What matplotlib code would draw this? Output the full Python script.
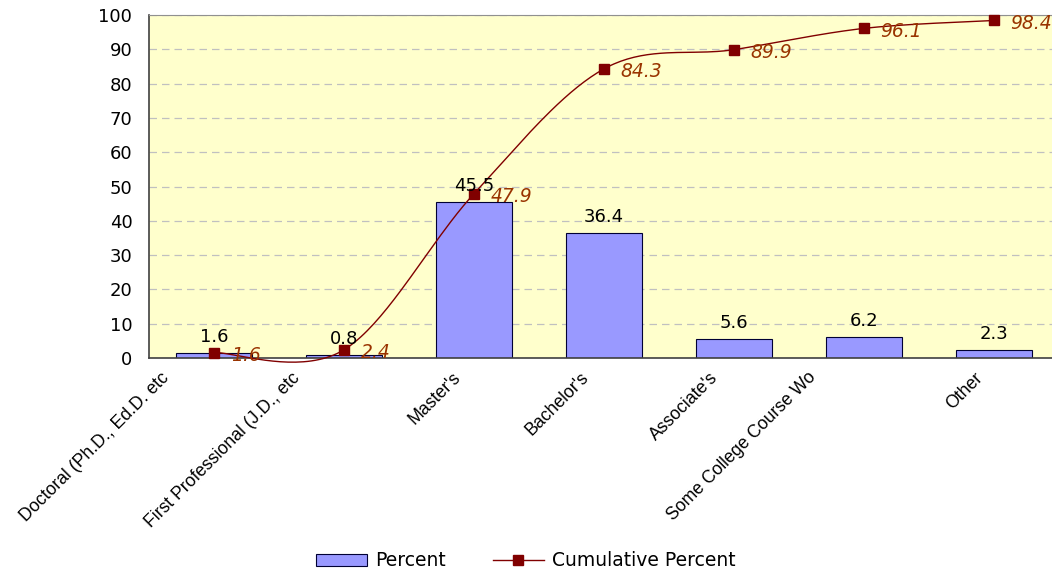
import numpy as np
import matplotlib.pyplot as plt
from matplotlib.transforms import ScaledTranslation
from matplotlib.lines import Line2D
from matplotlib.patches import Patch

plt.rcParams['font.family'] = ['DejaVu Sans']

# data
categories = ["Doctoral (Ph.D., Ed.D. etc", "First Professional (J.D., etc", "Master's",
              "Bachelor's", "Associate's", "Some College Course Wo", "Other"]
percent = [1.6, 0.8, 45.5, 36.4, 5.6, 6.2, 2.3]
cumulative = [1.6, 2.4, 47.9, 84.3, 89.9, 96.1, 98.4]

fig = plt.figure(figsize=(10.52, 5.71), dpi=100)
ax = fig.add_axes([149 / 1052, 213 / 571, 910 / 1052, 343 / 571])
ax.set_facecolor('#FFFFCC')

x = np.arange(len(categories))
ax.bar(x, percent, width=0.58, color='#9999FF', edgecolor='#000033',
       linewidth=0.8, label='Percent', zorder=2)

# bar value labels
for xi, v in zip(x, percent):
    ax.annotate(f"{v}", (xi, v), xytext=(0, 5), textcoords='offset points',
                ha='center', va='bottom', fontsize=13, color='black', zorder=5)

# smooth line like Excel (Bezier through points, tension 1/6)
def smooth(xs, ys, n=40):
    pts = np.column_stack([xs, ys]).astype(float)
    ext = np.vstack([pts[0], pts, pts[-1]])
    out = []
    t = np.linspace(0, 1, n)[:, None]
    for i in range(len(pts) - 1):
        p0, p3 = ext[i + 1], ext[i + 2]
        c1 = p0 + (ext[i + 2] - ext[i]) / 6
        c2 = p3 - (ext[i + 3] - ext[i + 1]) / 6
        seg = ((1 - t) ** 3) * p0 + 3 * ((1 - t) ** 2) * t * c1 + 3 * (1 - t) * t ** 2 * c2 + t ** 3 * p3
        out.append(seg)
    out = np.vstack(out)
    return out[:, 0], out[:, 1]

sx, sy = smooth(x, cumulative)
ax.plot(sx, sy, color='#800000', linewidth=1.0, zorder=3, clip_on=False)
ax.plot(x, cumulative, linestyle='none', marker='s', markersize=7,
        color='#800000', zorder=4, clip_on=False)
for xi, v in zip(x, cumulative):
    ax.annotate(f"{v}", (xi, v), xytext=(12, -2), textcoords='offset points',
                ha='left', va='center', fontsize=13.5, style='italic',
                color='#993300', zorder=5, annotation_clip=False)

ax.set_xlim(-0.5, 6.5)
ax.set_ylim(0, 100)
ax.set_yticks(np.arange(0, 101, 10))
ax.yaxis.grid(True, linestyle=(0, (6, 4)), color='#C0C0C0', linewidth=0.9, zorder=0)
ax.set_axisbelow(True)
ax.tick_params(axis='y', length=0, pad=12, labelsize=13)
ax.tick_params(axis='x', length=0, pad=8)

ax.set_xticks(x)
ax.set_xticklabels(categories, rotation=45, ha='right', rotation_mode='anchor',
                   fontsize=12.7, family='Liberation Sans')
# Excel centres the full (untruncated) labels, so truncated ones sit further left
shifts = [-53, -53, -22, -24, -25, -57, -20]
for lab, s in zip(ax.get_xticklabels(), shifts):
    lab.set_transform(lab.get_transform() + ScaledTranslation(s / 100, 0, fig.dpi_scale_trans))

for side in ['left', 'bottom']:
    ax.spines[side].set_color('#404040')
    ax.spines[side].set_linewidth(1.2)
ax.spines['top'].set_color('#909090')
ax.spines['right'].set_visible(False)

# legend
handles = [Patch(facecolor='#9999FF', edgecolor='#000033', linewidth=0.8),
           Line2D([0], [0], color='#800000', marker='s', markersize=7, linewidth=1.0)]
fig.legend(handles, ['Percent', 'Cumulative Percent'], loc='center',
           bbox_to_anchor=(0.5, 10 / 571), ncol=2, frameon=False, fontsize=13.5,
           handlelength=2.7, handleheight=0.55, columnspacing=2.5, handletextpad=0.45)

fig.savefig('out.png', dpi=100)
